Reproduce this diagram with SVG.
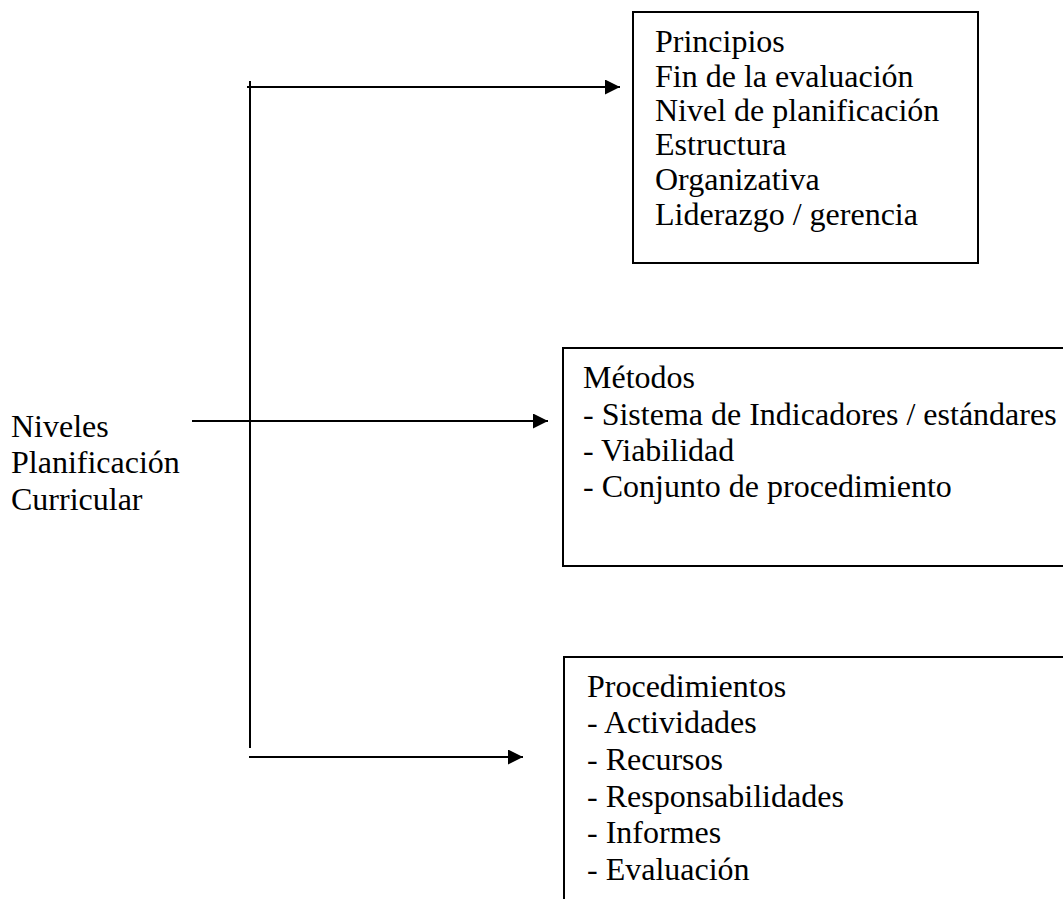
<svg xmlns="http://www.w3.org/2000/svg" width="1063" height="899" viewBox="0 0 1063 899">
  <defs>
    <style>
      .box { fill: #ffffff; stroke: #000000; stroke-width: 2; }
      .txt { font-family: "Liberation Serif", "Times New Roman", serif; font-size: 32px; fill: #000000; }
      .conn { stroke: #000000; stroke-width: 2; fill: none; }
    </style>
    <marker id="arrow" markerUnits="userSpaceOnUse" markerWidth="16" markerHeight="16" refX="15" refY="7.5" orient="auto">
      <path d="M0,0 L15,7.5 L0,15 Z" fill="#000000"/>
    </marker>
  </defs>
  <rect width="1063" height="899" fill="#ffffff"/>

  <g id="connectors">
    <line class="conn" x1="250" y1="81" x2="250" y2="748"/>
    <line class="conn" x1="247" y1="87" x2="620" y2="87" marker-end="url(#arrow)"/>
    <line class="conn" x1="192" y1="421" x2="548" y2="421" marker-end="url(#arrow)"/>
    <line class="conn" x1="250" y1="421" x2="280" y2="421" stroke-width="2.6"/>
    <line class="conn" x1="249" y1="757" x2="523" y2="757" marker-end="url(#arrow)"/>
  </g>

  <g id="node-niveles">
    <text class="txt" x="11" y="437">Niveles</text>
    <text class="txt" x="11" y="473">Planificación</text>
    <text class="txt" x="11" y="510">Curricular</text>
  </g>

  <g id="node-principios">
    <rect class="box" x="633" y="12" width="345" height="251"/>
    <text class="txt" x="655" y="52">Principios</text>
    <text class="txt" x="655" y="87">Fin de la evaluación</text>
    <text class="txt" x="655" y="121">Nivel de planificación</text>
    <text class="txt" x="655" y="155">Estructura</text>
    <text class="txt" x="655" y="190">Organizativa</text>
    <text class="txt" x="655" y="225">Liderazgo / gerencia</text>
  </g>

  <g id="node-metodos">
    <rect class="box" x="563" y="348" width="520" height="218"/>
    <text class="txt" x="583" y="388">Métodos</text>
    <text class="txt" x="583" y="425">- Sistema de Indicadores / estándares</text>
    <text class="txt" x="583" y="461">- Viabilidad</text>
    <text class="txt" x="583" y="497">- Conjunto de procedimiento</text>
  </g>

  <g id="node-procedimientos">
    <rect class="box" x="564" y="657" width="520" height="260"/>
    <text class="txt" x="587" y="697">Procedimientos</text>
    <text class="txt" x="587" y="733">- Actividades</text>
    <text class="txt" x="587" y="770">- Recursos</text>
    <text class="txt" x="587" y="807">- Responsabilidades</text>
    <text class="txt" x="587" y="843">- Informes</text>
    <text class="txt" x="587" y="880">- Evaluación</text>
  </g>
</svg>
